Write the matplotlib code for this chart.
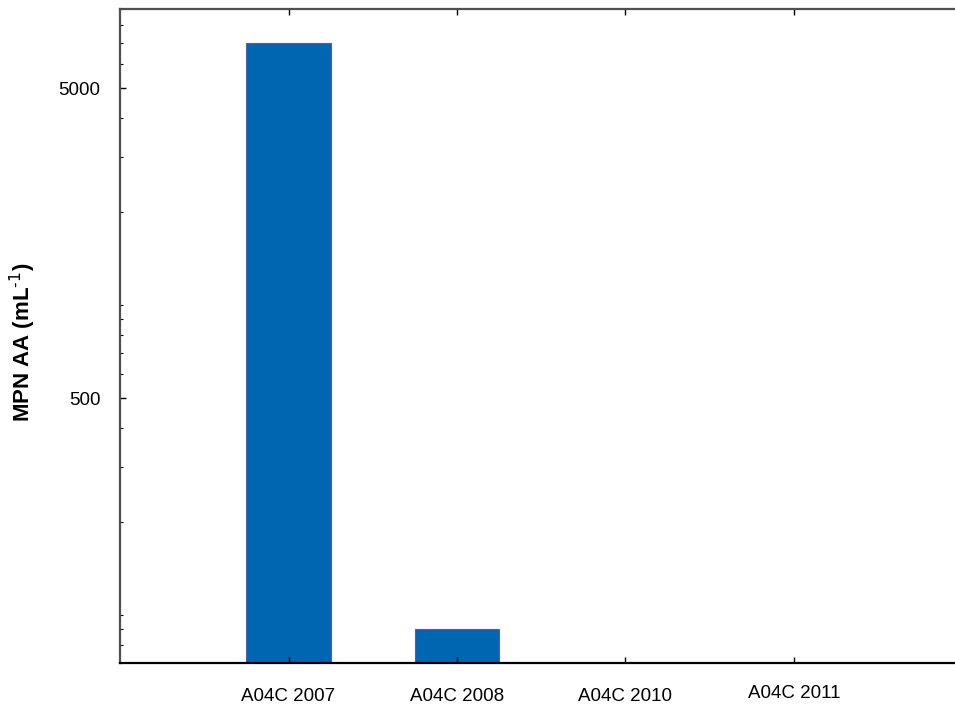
import numpy as np
import matplotlib.pyplot as plt
from matplotlib.ticker import FixedLocator, LogLocator, NullFormatter, FixedFormatter
import matplotlib.transforms as mtransforms

plt.rcParams['font.family'] = ['Liberation Sans', 'DejaVu Sans']

# MPN counts per sampling
sites = ["A04C 2007", "A04C 2008", "A04C 2010", "A04C 2011"]
mpn = [7000, 90, 0, 0]
y_major = [500, 5000]

fig = plt.figure(figsize=(9.55, 7.06), dpi=100)
ax = fig.add_axes([0.1257, 0.0609, 0.882, 0.9263])

x = np.arange(1, len(sites) + 1)
ax.bar(x, mpn, width=0.5, color='#0066b2', edgecolor='#5a5ab4', linewidth=0.8)

ax.set_yscale('log')
ax.set_ylim(70, 9000)
ax.set_xlim(0, 5)

ax.yaxis.set_major_locator(FixedLocator(y_major))
ax.yaxis.set_major_formatter(FixedFormatter([str(v) for v in y_major]))
ax.yaxis.set_minor_locator(LogLocator(base=10, subs=np.arange(1, 10)))
ax.yaxis.set_minor_formatter(NullFormatter())

ax.set_xticks(x)
ax.set_xticklabels(sites)

ax.tick_params(axis='y', which='major', direction='in', length=4, width=1,
               labelsize=13.5, pad=14, right=False)
ax.tick_params(axis='y', which='minor', direction='in', length=2.5, width=0.8, right=False)
ax.tick_params(axis='x', which='major', direction='in', length=4, width=1,
               labelsize=13.5, pad=18, top=True)

# last label sits slightly higher
off = mtransforms.ScaledTranslation(0, 3 / 100, fig.dpi_scale_trans)
lbl = ax.get_xticklabels()[-1]
lbl.set_transform(lbl.get_transform() + off)

for side in ['left', 'top']:
    ax.spines[side].set_color('#505050')
    ax.spines[side].set_linewidth(1.6)
ax.spines['bottom'].set_color('black')
ax.spines['bottom'].set_linewidth(1.6)
ax.spines['right'].set_visible(False)

ax.set_ylabel('MPN AA (mL$^{\\text{-1}}$)', fontsize=16, fontweight='bold',
              va='center')
ax.yaxis.set_label_coords(-0.115, 0.49)

fig.savefig('out.png', dpi=100)
